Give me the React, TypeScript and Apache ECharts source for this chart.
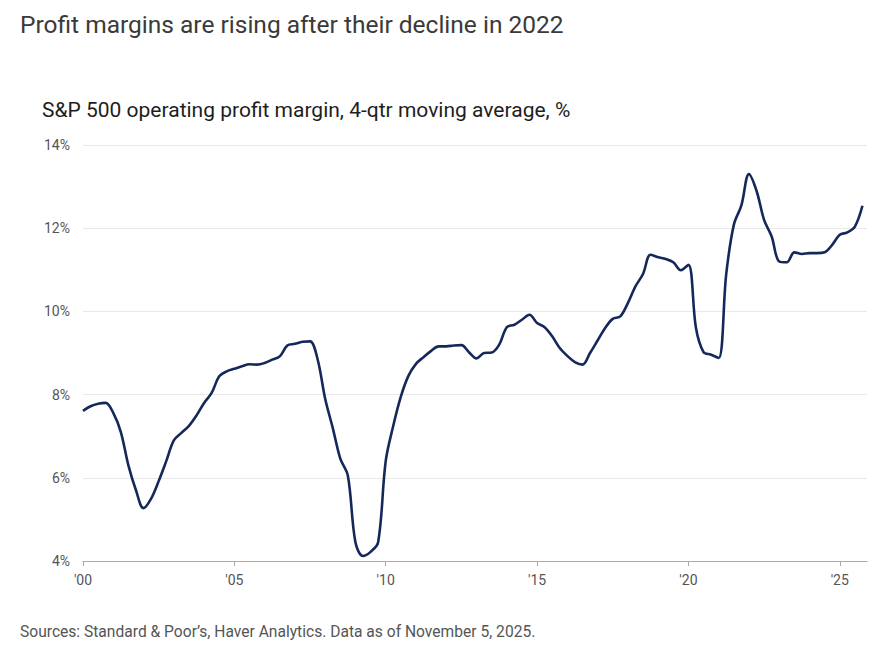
import React, { useEffect, useRef } from "react";
import * as echarts from "echarts";

const TITLE = "Profit margins are rising after their decline in 2022";
const SUBTITLE = "S&P 500 operating profit margin, 4-qtr moving average, %";
const SOURCE = "Sources: Standard & Poor’s, Haver Analytics. Data as of November 5, 2025.";

const START_YEAR = 2000;
// Quarterly values, 2000 Q1 onward
const margins = [
  7.61, 7.72, 7.78, 7.80, // 2000
  7.56, 7.10, 6.30, 5.70, // 2001
  5.27, 5.50, 5.92, 6.40, // 2002
  6.90, 7.08, 7.25, 7.50, // 2003
  7.80, 8.04, 8.44, 8.56, // 2004
  8.62, 8.68, 8.73, 8.72, // 2005
  8.76, 8.84, 8.92, 9.18, // 2006
  9.22, 9.27, 9.28, 8.85, // 2007
  7.90, 7.20, 6.46, 6.05, // 2008
  4.45, 4.12, 4.22, 4.45, // 2009
  6.40, 7.25, 7.95, 8.45, // 2010
  8.74, 8.90, 9.05, 9.16, // 2011
  9.16, 9.18, 9.19, 9.02, // 2012
  8.87, 9.00, 9.01, 9.20, // 2013
  9.62, 9.68, 9.80, 9.92, // 2014
  9.72, 9.62, 9.40, 9.12, // 2015
  8.93, 8.78, 8.72, 9.00, // 2016
  9.30, 9.60, 9.82, 9.88, // 2017
  10.20, 10.60, 10.90, 11.36, // 2018
  11.30, 11.26, 11.18, 10.99, // 2019
  11.12, 9.60, 9.02, 8.96, // 2020
  8.88, 10.90, 12.08, 12.55, // 2021
  13.30, 12.90, 12.20, 11.80, // 2022
  11.20, 11.18, 11.42, 11.38, // 2023
  11.40, 11.40, 11.42, 11.60, // 2024
  11.84, 11.90, 12.04, 12.54, // 2025
];

const xTicks = [2000, 2005, 2010, 2015, 2020, 2025];
const yTicks = [4, 6, 8, 10, 12, 14];

export default function App() {
  const ref = useRef<HTMLDivElement>(null);

  useEffect(() => {
    if (!ref.current) return;
    const chart = echarts.init(ref.current, undefined, { renderer: "svg" });
    const data = margins.map((v, i) => [START_YEAR + i / 4, v]);
    const font = "Roboto, 'Open Sans', sans-serif";
    chart.setOption({
      animation: false,
      backgroundColor: "#ffffff",
      textStyle: { fontFamily: font },
      grid: {
        left: 83,
        right: 12,
        top: 145,
        bottom: 88,
        containLabel: false,
        outerBoundsMode: "none",
      },
      xAxis: {
        type: "value",
        min: 2000,
        max: 2025.9,
        interval: 5,
        axisLine: { show: true, lineStyle: { color: "#aaaaaa", width: 1 } },
        axisTick: {
          show: true,
          length: 5,
          lineStyle: { color: "#aaaaaa" },
          customValues: xTicks,
        },
        axisLabel: {
          color: "#555555",
          fontSize: 14,
          margin: 12,
          fontFamily: font,
          customValues: xTicks,
          formatter: (v: number) => "'" + String(Math.round(v)).slice(2),
        },
        splitLine: { show: false },
      },
      yAxis: {
        type: "value",
        min: 4,
        max: 14,
        interval: 2,
        axisLine: { show: false },
        axisTick: { show: false },
        axisLabel: {
          color: "#555555",
          fontSize: 14,
          margin: 13,
          fontFamily: font,
          customValues: yTicks,
          formatter: (v: number) => v + "%",
        },
        splitLine: { show: true, lineStyle: { color: "#e9e9e9", width: 1 } },
      },
      series: [
        {
          type: "line",
          data,
          smooth: 0.35,
          showSymbol: false,
          lineStyle: { color: "#14285a", width: 2.6 },
          itemStyle: { color: "#14285a" },
          z: 5,
        },
      ],
      graphic: [
        {
          type: "text",
          left: 20,
          top: 12,
          style: {
            text: TITLE,
            fontSize: 24.5,
            fontFamily: font,
            fill: "#3a3a3a",
          },
        },
        {
          type: "text",
          left: 42,
          top: 99,
          style: {
            text: SUBTITLE,
            fontSize: 21,
            fontFamily: font,
            fill: "#1e1e1e",
          },
        },
        {
          type: "text",
          left: 20,
          top: 624,
          style: {
            text: SOURCE,
            fontSize: 15.6,
            fontFamily: font,
            fill: "#555555",
          },
        },
      ],
    });
    return () => chart.dispose();
  }, []);

  return <div ref={ref} style={{ width: 879, height: 649, margin: -8 }} />;
}
